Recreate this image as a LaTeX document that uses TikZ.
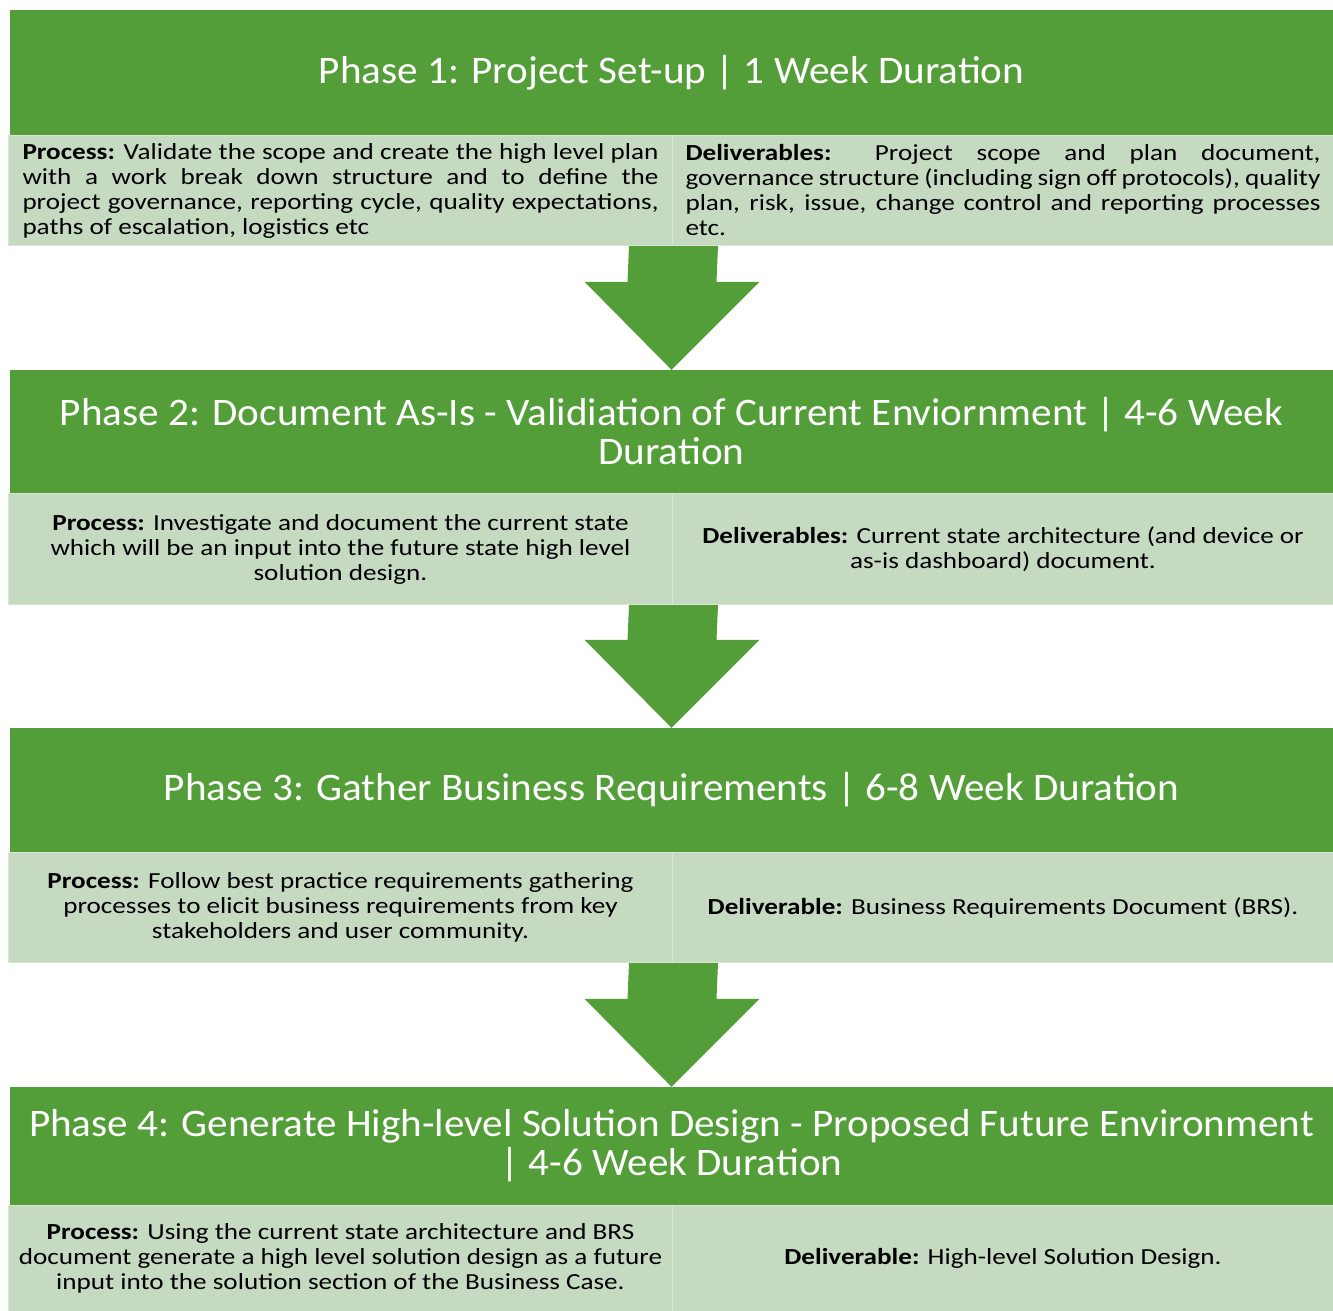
\documentclass[tikz,border=0pt]{standalone}
\usepackage{fontspec}
\setmainfont{Carlito}[FakeStretch=1.18]
\newfontfamily\headfamily{Carlito}[FakeStretch=1.055]
\usetikzlibrary{calc}
\definecolor{phasegreen}{RGB}{84,158,57}
\definecolor{cellgreen}{RGB}{197,218,193}
\definecolor{cellline}{RGB}{216,229,212}
\def\headfont{\headfamily\fontsize{39}{39}\selectfont}
\def\bodyfont{\fontsize{23}{25}\selectfont}
\def\flow#1#2{\fill[phasegreen] ($(#1)+(-44,0)$) -- ($(#1)+(45,0)$) -- ($(#2)+(45,-88)$) -- ($(#2)+(88,-88)$) -- (#2) -- ($(#2)+(-87,-88)$) -- ($(#2)+(-44,-88)$) -- cycle;}

\begin{document}
\begin{tikzpicture}[x=1pt,y=-1pt,
    head/.style={fill=phasegreen,text=white,font=\headfont,inner sep=0pt,minimum width=1323,align=center},
    cell/.style={fill=cellgreen,draw=cellline,line width=1pt,inner sep=0pt,font=\bodyfont}]
  \useasboundingbox (0,0) rectangle (1333,1311);
  % phase 1
  \node[head,minimum height=125] (head1) at (671.5,72.5) {Phase 1: Project Set-up | 1 Week Duration};
  \node[cell,anchor=north west,minimum width=664,minimum height=110,text width=636,align=justify] (proc1) at (8,135)
    {\textbf{Process:} Validate the scope and create the high level plan\linebreak with a work break down structure and to define the\linebreak project governance, reporting cycle, quality expectations,\linebreak paths of escalation, logistics etc};
  \node[cell,anchor=north west,minimum width=661,minimum height=110,text width=635,align=justify] (deliv1) at (672,135)
    {\textbf{Deliverables:} Project scope and plan document,\linebreak governance structure (including sign off protocols), quality\linebreak plan, risk, issue, change control and reporting processes\linebreak etc.};
  % phase 2
  \node[head,minimum height=123] (head2) at (671.5,431.5) {Phase 2: Document As-Is - Validiation of Current Enviornment | 4-6 Week\\Duration};
  \node[cell,anchor=north west,minimum width=664,minimum height=111,align=center] (proc2) at (8,493)
    {\textbf{Process:} Investigate and document the current state\\which will be an input into the future state high level\\solution design.};
  \node[cell,anchor=north west,minimum width=661,minimum height=111,align=center] (deliv2) at (672,493)
    {\textbf{Deliverables:} Current state architecture (and device or\\as-is dashboard) document.};
  % phase 3
  \node[head,minimum height=124] (head3) at (671.5,790) {Phase 3: Gather Business Requirements | 6-8 Week Duration};
  \node[cell,anchor=north west,minimum width=664,minimum height=110,align=center] (proc3) at (8,852)
    {\textbf{Process:} Follow best practice requirements gathering\\processes to elicit business requirements from key\\stakeholders and user community.};
  \node[cell,anchor=north west,minimum width=661,minimum height=110,align=center] (deliv3) at (672,852)
    {\textbf{Deliverable:} Business Requirements Document (BRS).};
  % phase 4
  \node[head,minimum height=118] (head4) at (671.5,1146) {Phase 4: Generate High-level Solution Design - Proposed Future Environment\\| 4-6 Week Duration};
  \node[cell,anchor=north west,minimum width=664,minimum height=106,align=center] (proc4) at (8,1205)
    {\textbf{Process:} Using the current state architecture and BRS\\document generate a high level solution design as a future\\input into the solution section of the Business Case.};
  \node[cell,anchor=north west,minimum width=661,minimum height=106,align=center] (deliv4) at (672,1205)
    {\textbf{Deliverable:} High-level Solution Design.};
  % arrows between the phases
  \flow{proc1.south east}{head2.north}
  \flow{proc2.south east}{head3.north}
  \flow{proc3.south east}{head4.north}
\end{tikzpicture}
\end{document}
